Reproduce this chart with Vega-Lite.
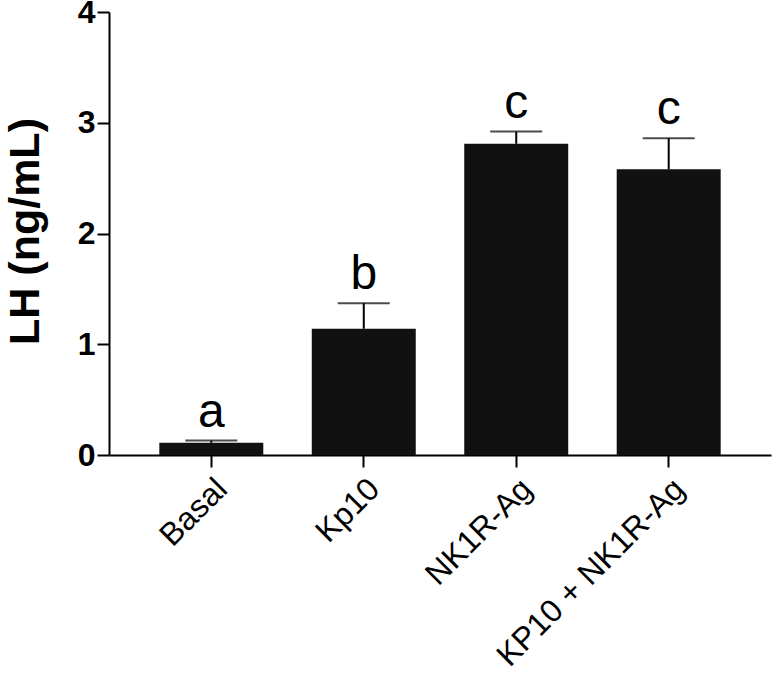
{
  "$schema": "https://vega.github.io/schema/vega-lite/v6.json",
  "width": 662,
  "height": 443,
  "autosize": "none",
  "padding": {"left": 109, "top": 12, "right": 2, "bottom": 222},
  "background": "white",
  "config": {"view": {"stroke": null}, "font": "Liberation Sans"},
  "data": {"values": [
    {"group": "Basal", "lh": 0.11, "top": 0.13, "letter": "a"},
    {"group": "Kp10", "lh": 1.14, "top": 1.37, "letter": "b"},
    {"group": "NK1R-Ag", "lh": 2.81, "top": 2.92, "letter": "c"},
    {"group": "KP10 + NK1R-Ag", "lh": 2.58, "top": 2.86, "letter": "c"}
  ]},
  "encoding": {
    "x": {
      "field": "group", "type": "nominal", "sort": null,
      "scale": {"paddingInner": 0.318, "paddingOuter": 0.33},
      "axis": {
        "title": null, "labelAngle": -45, "labelFontSize": 32, "labelColor": "black", "labelLimit": 0,
        "labelFont": "Liberation Sans", "domainColor": "black", "domainWidth": 2,
        "tickColor": "black", "tickWidth": 2, "tickSize": 12, "labelPadding": 6
      }
    }
  },
  "layer": [
    {
      "mark": {"type": "bar", "color": "#111111"},
      "encoding": {
        "y": {
          "field": "lh", "type": "quantitative",
          "scale": {"domain": [0, 4], "nice": false},
          "axis": {
            "title": "LH (ng/mL)", "titleFontSize": 43, "titleFontWeight": "bold",
            "titleColor": "black", "titleFont": "Liberation Sans",
            "titleX": -71, "titleY": 219, "titleBaseline": "alphabetic", "titleAlign": "center", "titleAngle": -90,
            "values": [0, 1, 2, 3, 4], "format": "d", "grid": false,
            "labelFontSize": 32, "labelFontWeight": "bold", "labelColor": "black",
            "labelPadding": 2, "domainColor": "black", "domainWidth": 2,
            "tickColor": "black", "tickWidth": 2, "tickSize": 12
          }
        }
      }
    },
    {
      "mark": {"type": "rule", "color": "black", "strokeWidth": 2},
      "encoding": {
        "y": {"field": "lh", "type": "quantitative"},
        "y2": {"field": "top"}
      }
    },
    {
      "mark": {"type": "tick", "color": "black", "size": 52, "thickness": 2},
      "encoding": {
        "y": {"field": "top", "type": "quantitative"}
      }
    },
    {
      "mark": {"type": "text", "fontSize": 48, "font": "Liberation Sans", "color": "black", "dy": -14, "baseline": "alphabetic"},
      "encoding": {
        "y": {"field": "top", "type": "quantitative"},
        "text": {"field": "letter"}
      }
    }
  ]
}
